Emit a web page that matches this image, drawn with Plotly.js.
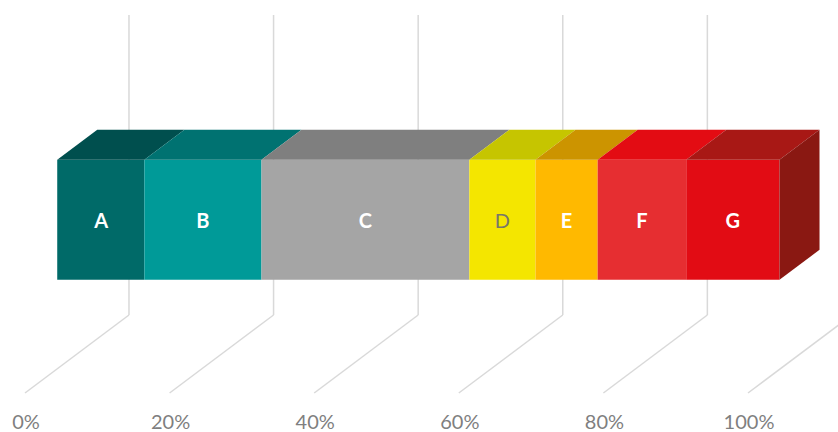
<!DOCTYPE html>
<html>
<head>
<meta charset="utf-8">
<script src="https://cdn.plot.ly/plotly-3.0.1.min.js"></script>
<style>html,body{margin:0;padding:0;background:#fff}#c{width:838px;height:432px}</style>
</head>
<body>
<div id="c"></div>
<script>
// Data
var categories = ["A", "B", "C", "D", "E", "F", "G"];
var shares = [12.05, 16.2, 28.75, 9.15, 8.6, 12.25, 12.9];
var tickValues = [0, 20, 40, 60, 80, 100];
var tickLabels = ["0%", "20%", "40%", "60%", "80%", "100%"];

// Styles
var frontColors = ["#006a68", "#009a98", "#a5a5a5", "#f4e600", "#ffb900", "#e62e31", "#e20c14"];
var topColors = ["#004f4e", "#007271", "#7f7f7f", "#c6c500", "#cc9400", "#e30c13", "#a81815"];
var labelColors = ["#ffffff", "#ffffff", "#ffffff", "#77776a", "#ffffff", "#ffffff", "#ffffff"];
var labelWeights = [700, 700, 700, 400, 700, 700, 700];
var sideColor = "#8a1812";
var gridColor = "#d9d9d9";

// Oblique projection of the 3D chart box, in axis units
var depthX = 14.38, depthY = 78;
var wallHeight = 300;
var barFrontDepth = 0.31, barBackDepth = 0.695;
var barBase = 89, barHeight = 120;

function px(v, d) { return v + d * depthX; }
function py(h, d) { return h + d * depthY; }

var traces = [];

// Floor and wall grid lines, behind every trace
var gridShapes = [];
tickValues.forEach(function (t) {
  var line = { color: gridColor, width: 1.5 };
  gridShapes.push({ type: "line", layer: "below", xref: "x", yref: "y",
    x0: px(t, 0), y0: py(0, 0), x1: px(t, 1), y1: py(0, 1), line: line });
  gridShapes.push({ type: "line", layer: "below", xref: "x", yref: "y",
    x0: px(t, 1), y0: py(0, 1), x1: px(t, 1), y1: py(wallHeight, 1), line: line });
});

// Cumulative starting points
var starts = [];
shares.reduce(function (sum, s, i) { starts[i] = sum; return sum + s; }, 0);
var total = starts[starts.length - 1] + shares[shares.length - 1];

// Top faces
categories.forEach(function (c, i) {
  var a = starts[i], b = a + shares[i], h = barBase + barHeight;
  traces.push({
    type: "scatter", mode: "lines", fill: "toself", hoverinfo: "skip", showlegend: false,
    x: [px(a, barFrontDepth), px(b, barFrontDepth), px(b, barBackDepth), px(a, barBackDepth), px(a, barFrontDepth)],
    y: [py(h, barFrontDepth), py(h, barFrontDepth), py(h, barBackDepth), py(h, barBackDepth), py(h, barFrontDepth)],
    fillcolor: topColors[i], line: { width: 0, color: topColors[i] }
  });
});

// Right side face
traces.push({
  type: "scatter", mode: "lines", fill: "toself", hoverinfo: "skip", showlegend: false,
  x: [px(total, barFrontDepth), px(total, barBackDepth), px(total, barBackDepth), px(total, barFrontDepth), px(total, barFrontDepth)],
  y: [py(barBase, barFrontDepth), py(barBase, barBackDepth), py(barBase + barHeight, barBackDepth), py(barBase + barHeight, barFrontDepth), py(barBase, barFrontDepth)],
  fillcolor: sideColor, line: { width: 0, color: sideColor }
});

// Front faces
traces.push({
  type: "bar", orientation: "h", hoverinfo: "skip", showlegend: false,
  x: shares,
  y: categories.map(function () { return py(barBase + barHeight / 2, barFrontDepth); }),
  base: starts.map(function (s) { return px(s, barFrontDepth); }),
  width: categories.map(function () { return barHeight; }),
  text: categories.map(function (c, i) { return labelWeights[i] === 700 ? "<b>" + c + "</b>" : c; }),
  textposition: "inside", insidetextanchor: "middle", textangle: 0,
  constraintext: "none",
  textfont: { family: "Lato, sans-serif", size: 20, color: labelColors },
  marker: { color: frontColors, line: { width: 0 } }
});

var layout = {
  width: 838, height: 432,
  margin: { l: 0, r: 0, t: 0, b: 24, pad: 0 },
  paper_bgcolor: "#ffffff", plot_bgcolor: "#ffffff",
  barmode: "overlay", showlegend: false,
  shapes: gridShapes,
  xaxis: {
    range: [-25 / 7.23, (838 - 25) / 7.23], fixedrange: true,
    tickmode: "array", tickvals: tickValues, ticktext: tickLabels,
    showgrid: false, zeroline: false, showline: false, ticks: "",
    ticklabelstandoff: 0, ticklabelshift: 1,
    tickfont: { family: "Lato, sans-serif", size: 20, color: "#7f7f7f" }
  },
  yaxis: {
    range: [-15, 393], fixedrange: true,
    showgrid: false, zeroline: false, showline: false, showticklabels: false, ticks: ""
  }
};

Plotly.newPlot("c", traces, layout, { displayModeBar: false, staticPlot: true });
</script>
</body>
</html>
